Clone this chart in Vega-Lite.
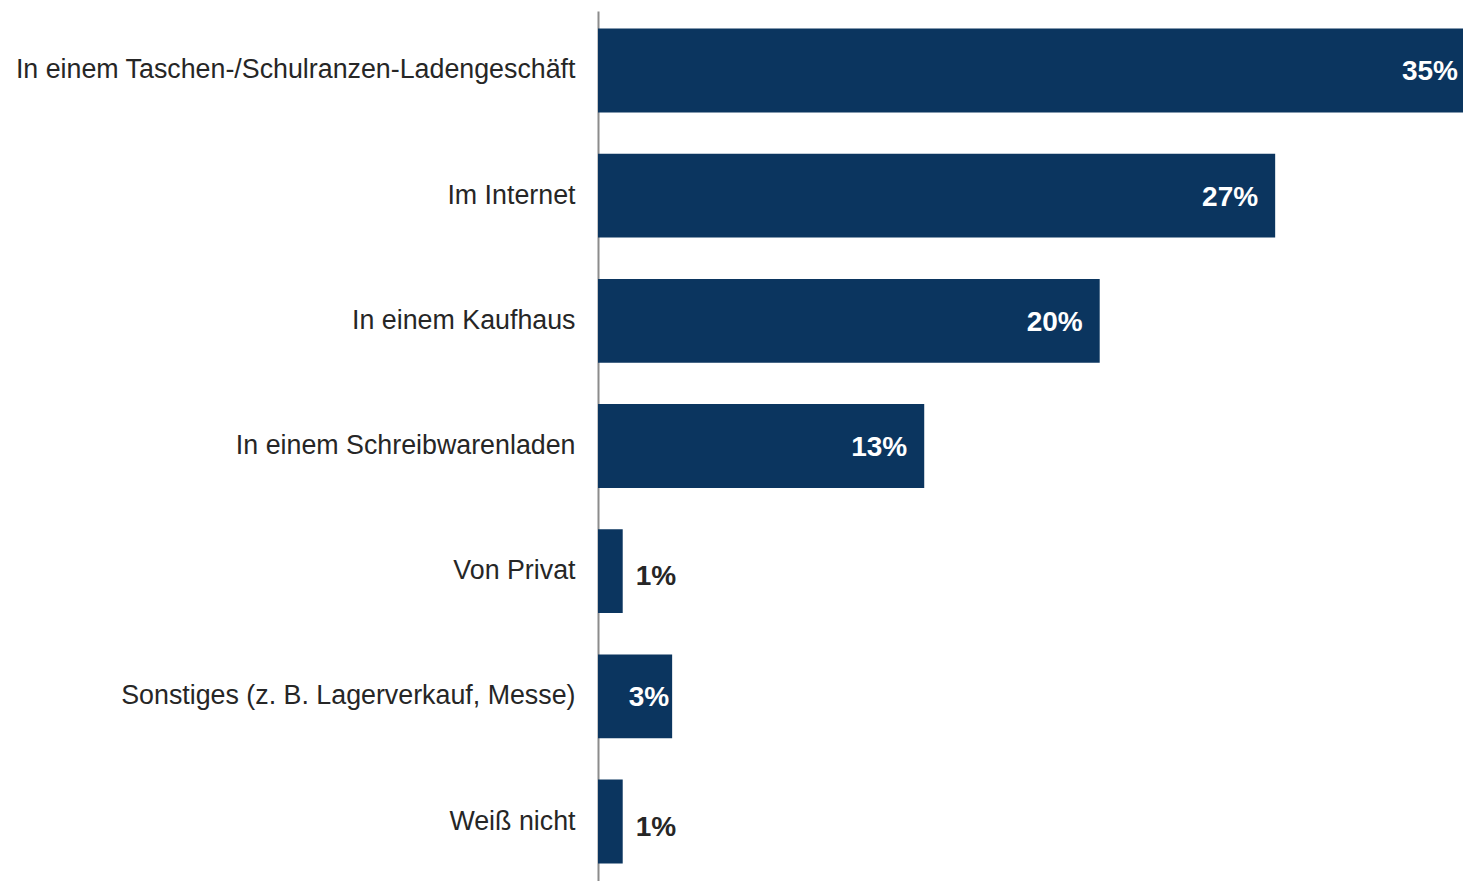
{
  "$schema": "https://vega.github.io/schema/vega-lite/v6.json",
  "width": 865,
  "height": 870,
  "padding": {"left": 0, "top": 11, "right": 0, "bottom": 0},
  "config": {"view": {"stroke": null}, "font": "Liberation Sans"},
  "data": {
    "values": [
      {"channel": "In einem Taschen-/Schulranzen-Ladengeschäft", "share": 35.0, "label": "35%"},
      {"channel": "Im Internet", "share": 27.4, "label": "27%"},
      {"channel": "In einem Kaufhaus", "share": 20.3, "label": "20%"},
      {"channel": "In einem Schreibwarenladen", "share": 13.2, "label": "13%"},
      {"channel": "Von Privat", "share": 1.0, "label": "1%"},
      {"channel": "Sonstiges (z. B. Lagerverkauf, Messe)", "share": 3.0, "label": "3%"},
      {"channel": "Weiß nicht", "share": 1.0, "label": "1%"}
    ]
  },
  "encoding": {
    "y": {
      "field": "channel",
      "type": "nominal",
      "sort": null,
      "scale": {"paddingInner": 0.33, "paddingOuter": 0.14},
      "axis": {
        "title": null,
        "ticks": false,
        "domain": true,
        "domainColor": "#8c8c8c",
        "domainWidth": 2,
        "labelFontSize": 26.8,
        "labelColor": "#262626",
        "labelPadding": 23,
        "labelLimit": 600,
        "minExtent": 598,
        "maxExtent": 598
      }
    },
    "x": {
      "field": "share",
      "type": "quantitative",
      "scale": {"domain": [0, 35], "nice": false},
      "axis": null
    }
  },
  "layer": [
    {"mark": {"type": "bar", "color": "#0b355f"}},
    {
      "transform": [{"filter": "datum.share >= 30"}],
      "mark": {"type": "text", "align": "right", "baseline": "middle", "dx": -5, "dy": 2, "fontSize": 28, "fontWeight": "bold", "color": "#ffffff"},
      "encoding": {"text": {"field": "label"}}
    },
    {
      "transform": [{"filter": "datum.share >= 5 && datum.share < 30"}],
      "mark": {"type": "text", "align": "right", "baseline": "middle", "dx": -17, "dy": 2, "fontSize": 28, "fontWeight": "bold", "color": "#ffffff"},
      "encoding": {"text": {"field": "label"}}
    },
    {
      "transform": [{"filter": "datum.share >= 2 && datum.share < 5"}],
      "mark": {"type": "text", "align": "right", "baseline": "middle", "dx": -3, "dy": 2, "fontSize": 28, "fontWeight": "bold", "color": "#ffffff"},
      "encoding": {"text": {"field": "label"}}
    },
    {
      "transform": [{"filter": "datum.share < 2"}],
      "mark": {"type": "text", "align": "left", "baseline": "middle", "dx": 13, "dy": 6, "fontSize": 28, "fontWeight": "bold", "color": "#262626"},
      "encoding": {"text": {"field": "label"}}
    }
  ]
}
